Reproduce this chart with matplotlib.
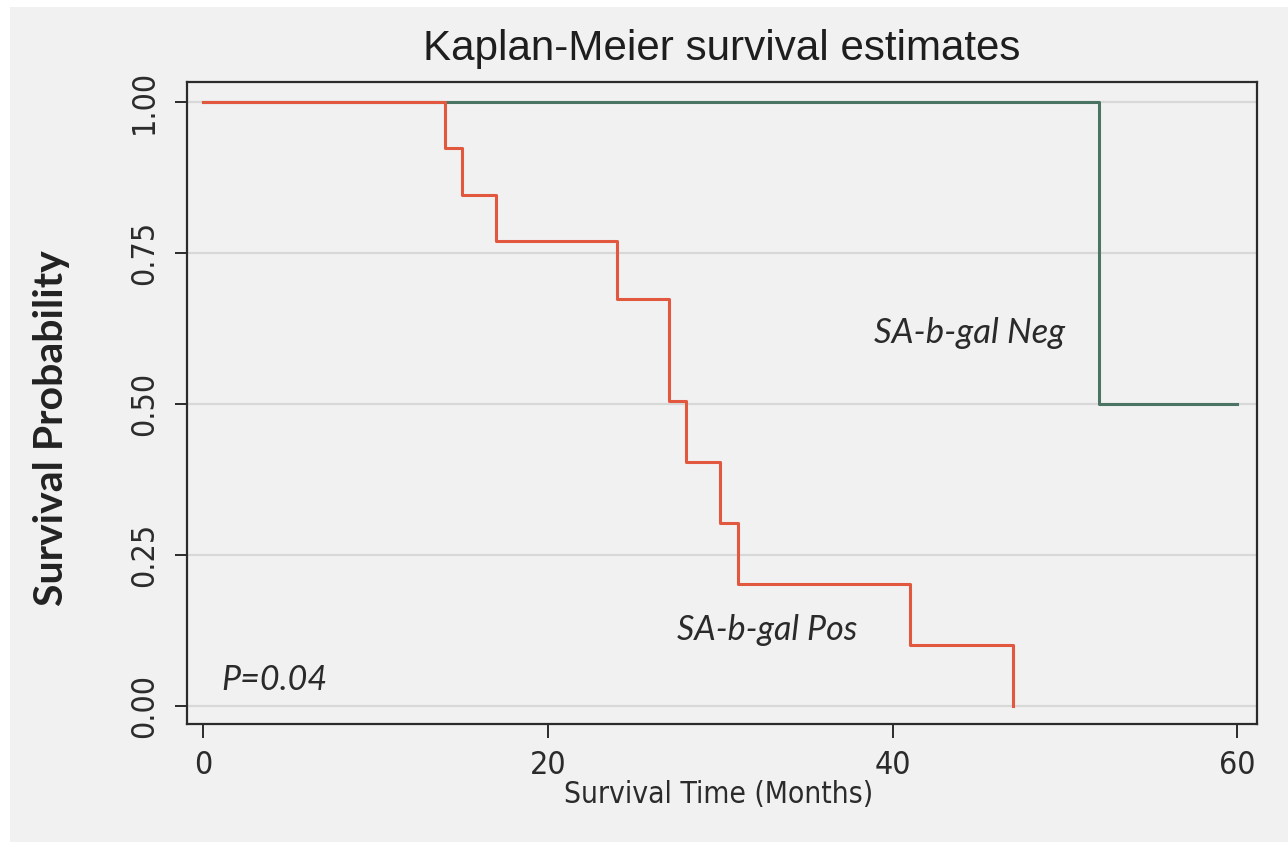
import matplotlib
matplotlib.use("Agg")
import matplotlib.pyplot as plt
from matplotlib import font_manager
from matplotlib.font_manager import FontProperties
from matplotlib.patches import Rectangle

# =============================
# DATA
# =============================
pos_time = [0, 14, 15, 17, 24, 27, 28, 30, 31, 41, 47]
pos_surv = [1.0, 0.923, 0.846, 0.769, 0.673, 0.505, 0.404, 0.303, 0.202, 0.101, 0.0]

neg_time = [0, 52, 60]
neg_surv = [1.0, 0.5, 0.5]

x_ticks = [0, 20, 40, 60]
y_ticks = [0.0, 0.25, 0.50, 0.75, 1.00]
y_ticklabels = ["0.00", "0.25", "0.50", "0.75", "1.00"]

p_text = "P=0.04"

# =============================
# STYLE
# =============================
bg = "#f1f1f1"
red = "#e2583f"
green = "#4b7464"
dark = "#2b2b2b"

names = {f.name for f in font_manager.fontManager.ttflist}
ital = "Lato" if "Lato" in names else "DejaVu Sans"


# look for a condensed sans face for the axis text
def find_narrow():
    prefs = ["Liberation Sans Narrow", "Noto Sans", "DejaVu Sans", "Open Sans", "Roboto"]
    for want in ("condensed", "semi-condensed"):
        cands = [f for f in font_manager.fontManager.ttflist
                 if (str(f.stretch) == want or "Narrow" in f.name)
                 and f.style == "normal"
                 and str(f.weight) in ("400", "normal", "regular")]
        for p in prefs:
            for f in cands:
                if f.name == p:
                    return f.fname
        if cands:
            return cands[0].fname
    return None


narrow_path = find_narrow()


def axis_font(size):
    if narrow_path:
        return FontProperties(fname=narrow_path, size=size)
    return FontProperties(family="Liberation Sans", size=size * 0.86)


fig = plt.figure(figsize=(12.88, 8.42), dpi=100, facecolor="white")
fig.patches.append(Rectangle((10 / 1288, 0), 1, 1 - 7 / 842, transform=fig.transFigure,
                             facecolor=bg, edgecolor="none", zorder=-5))

ax = fig.add_axes([187 / 1288, 1 - 724 / 842, 1070 / 1288, 642 / 842])
ax.set_facecolor(bg)

ax.set_xlim(-0.95, 61.15)
ax.set_ylim(-0.030, 1.033)

for y in y_ticks:
    ax.axhline(y, color="#d8d8d8", lw=1.6, zorder=1)

ax.step(neg_time, neg_surv, where="post", color=green, lw=2.2, zorder=3)
ax.step(pos_time, pos_surv, where="post", color=red, lw=2.2, zorder=4)

for s in ax.spines.values():
    s.set_color(dark)
    s.set_linewidth(1.6)

ax.set_xticks(x_ticks)
ax.set_xticklabels([str(t) for t in x_ticks], fontproperties=axis_font(23), color=dark)
ax.set_yticks(y_ticks)
ax.set_yticklabels(y_ticklabels, fontproperties=axis_font(23), color=dark,
                   rotation=90, va="center")
ax.tick_params(axis="x", length=10, width=1.4, color=dark, pad=9)
ax.tick_params(axis="y", length=8.5, width=1.4, color=dark, pad=11)

ax.set_xlabel("Survival Time (Months)", fontproperties=axis_font(21.5), color=dark)
ax.xaxis.set_label_coords(0.497, -0.088)
ax.set_ylabel("Survival Probability", fontfamily=ital, fontweight="bold",
              fontsize=29.5, color="#222222")
ax.yaxis.set_label_coords(-0.109, 0.461)

ax.set_title("Kaplan-Meier survival estimates", fontfamily="Liberation Sans",
             fontsize=30.3, color="#1e1e1e", pad=16)

ax.text(38.9, 0.6175, "SA-b-gal Neg", fontfamily=ital, style="italic", fontsize=25,
        color="#2a2a2a", va="center", ha="left")
ax.text(27.5, 0.126, "SA-b-gal Pos", fontfamily=ital, style="italic", fontsize=24.5,
        color="#2a2a2a", va="center", ha="left")
ax.text(1.05, 0.043, p_text, fontfamily=ital, style="italic", fontsize=24.5,
        color="#2a2a2a", va="center", ha="left")

fig.savefig("out.png", dpi=100, facecolor=fig.get_facecolor())
